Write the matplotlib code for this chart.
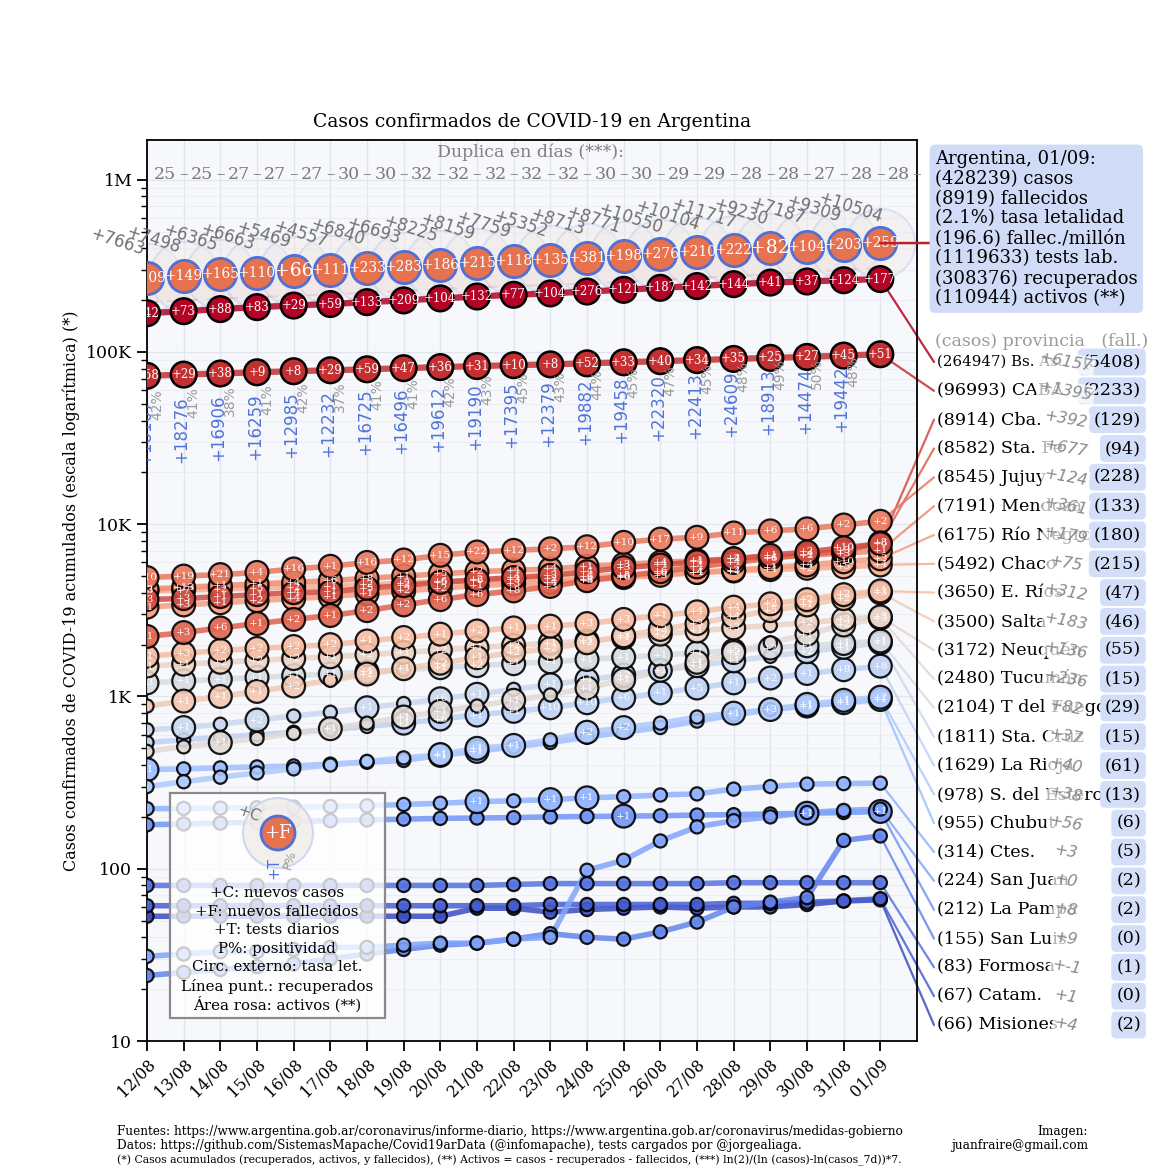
import matplotlib.pyplot as plt
from matplotlib import cm
from matplotlib.patches import Circle, FancyBboxPatch
from matplotlib.transforms import offset_copy
from matplotlib.ticker import LogLocator, NullFormatter

plt.rcParams['font.family'] = 'DejaVu Serif'

fechas = ['12/08', '13/08', '14/08', '15/08', '16/08', '17/08', '18/08', '19/08',
          '20/08', '21/08', '22/08', '23/08', '24/08', '25/08', '26/08', '27/08',
          '28/08', '29/08', '30/08', '31/08', '01/09']

# Argentina (totales)
arg_casos = [268574, 276072, 282437, 289100, 294569, 299126, 305966, 312659, 320884, 329043,
             336802, 342154, 350867, 359638, 370188, 380292, 392009, 401239, 408426, 417735, 428239]
arg_nuevos = [7663, 7498, 6365, 6663, 5469, 4557, 6840, 6693, 8225, 8159, 7759, 5352, 8713,
              8771, 10550, 10104, 11717, 9230, 7187, 9309, 10504]
arg_fall_nuevos = [209, 149, 165, 110, 66, 111, 233, 283, 186, 215, 118, 135, 381, 198, 276,
                   210, 222, 82, 104, 203, 259]
arg_recuperados = [194000, 199000, 204000, 208000, 212000, 216000, 221000, 227000, 232000,
                   237000, 241000, 245000, 250000, 256000, 262000, 269000, 276000, 283000,
                   291000, 299000, 308376]
duplica = [25, 25, 27, 27, 27, 30, 30, 32, 32, 32, 32, 32, 30, 30, 29, 29, 28, 28, 27, 28, 28]
tests = [18107, 18276, 16906, 16259, 12985, 12232, 16725, 16496, 19612, 19190, 17395, 12379,
         19882, 19458, 22320, 22413, 24609, 18913, 14474, 19442]
positividad = [42, 41, 38, 41, 42, 37, 41, 41, 42, 43, 45, 43, 44, 45, 47, 45, 48, 49, 50, 48]

arg_resumen = ['Argentina, 01/09:', '(428239) casos', '(8919) fallecidos', '(2.1%) tasa letalidad',
               '(196.6) fallec./millón', '(1119633) tests lab.', '(308376) recuperados',
               '(110944) activos (**)']

# provincias (etiquetas de la derecha)
prov_nombres = ['Bs. As.', 'CABA', 'Cba.', 'Sta. Fe', 'Jujuy', 'Mendoza', 'Río Negro', 'Chaco',
                'E. Ríos', 'Salta', 'Neuquén', 'Tucumán', 'T del Fuego', 'Sta. Cruz', 'La Rioja',
                'S. del Estero', 'Chubut', 'Ctes.', 'San Juan', 'La Pampa', 'San Luis', 'Formosa',
                'Catam.', 'Misiones']
prov_casos = [264947, 96993, 8914, 8582, 8545, 7191, 6175, 5492, 3650, 3500, 3172, 2480, 2104,
              1811, 1629, 978, 955, 314, 224, 212, 155, 83, 67, 66]
prov_fall = [5408, 2233, 129, 94, 228, 133, 180, 215, 47, 46, 55, 15, 29, 15, 61, 13, 6, 5, 2,
             2, 0, 1, 0, 2]
prov_nuevos = [6157, 1395, 392, 677, 124, 361, 179, 75, 312, 183, 136, 236, 82, 37, 40, 38, 56,
               3, 0, 8, 9, -1, 1, 4]

# series por provincia (casos acumulados / fallecidos del dia)
casos_bsas = [167800, 172500, 177300, 182100, 186000, 189800, 194600, 199200, 204600, 209900,
              214700, 218700, 224300, 229400, 235700, 241300, 247500, 252800, 256500, 260900, 264947]
fall_bsas = [42, 73, 88, 83, 29, 59, 133, 209, 104, 132, 77, 104, 276, 121, 187, 142, 144, 41,
             37, 124, 177]
casos_caba = [72700, 73900, 75000, 76200, 77300, 78300, 79300, 80500, 81700, 82800, 83800,
              84700, 85900, 87100, 88400, 89700, 91100, 92400, 93600, 95300, 96993]
fall_caba = [58, 29, 38, 9, 8, 29, 59, 47, 36, 31, 10, 8, 52, 33, 40, 34, 35, 25, 27, 45, 51]
casos_cba = [3660, 3700, 3800, 3900, 4000, 4050, 4250, 4400, 4600, 4750, 4900, 5050, 5300, 5600,
             5800, 6050, 6300, 6600, 6900, 7300, 7700]
fall_cba = [3, 3, 1, 1, 4, 1, 5, 3, 5, 2, 4, 2, 4, 3, 4, 4, 4, 1, 2, 10, 6]
casos_stafe = [2230, 2350, 2500, 2650, 2800, 2950, 3150, 3400, 3650, 3900, 4100, 4350, 4700,
               5000, 5300, 5650, 6000, 6350, 6650, 7000, 7800]
fall_stafe = [1, 3, 6, 1, 2, 1, 2, 2, 6, 6, 8, 3, 8, 6, 6, 4, 4, 6, 4, 3, 3]
casos_jujuy = [4900, 5000, 5100, 5250, 5500, 5700, 6000, 6200, 6600, 6900, 7050, 7200, 7400,
               7850, 8200, 8400, 8900, 9150, 9400, 9900, 10400]
fall_jujuy = [10, 19, 21, 4, 16, 1, 16, 12, 15, 22, 12, 2, 12, 10, 17, 9, 11, 6, 6, 2, 2]
casos_mendoza = [4200, 4300, 4400, 4500, 4600, 4700, 4850, 5000, 5150, 5300, 5400, 5500, 5700,
                 5850, 6000, 6150, 6300, 6450, 6600, 6800, 7000]
fall_mendoza = [3, 13, 1, 1, 4, 6, 8, 1, 5, 2, 4, 4, 1, 3, 4, 1, 2, 4, 2, 3, 1]
casos_rionegro = [3300, 3400, 3500, 3600, 3700, 3800, 3950, 4100, 4250, 4400, 4500, 4600, 4750,
                  4900, 5050, 5250, 5400, 5600, 5800, 6050, 6300]
fall_rionegro = [1, 3, 1, 2, 4, 1, 1, 2, 2, 1, 3, 4, 4, 6, 3, 4, 2, 1, 4, 10, 3]
casos_chaco = [4100, 4150, 4200, 4250, 4300, 4350, 4450, 4550, 4650, 4700, 4800, 4850, 4950,
               5050, 5150, 5250, 5350, 5450, 5550, 5650, 5800]
fall_chaco = [3, 7, 2, 5, 2, 1, 2, 2, 6, 6, 3, 2, 6, 5, 6, 4, 4, 4, 2, 5, 4]
casos_erios = [1710, 1780, 1850, 1900, 1950, 2000, 2100, 2200, 2300, 2400, 2500, 2560, 2650,
               2800, 2950, 3100, 3300, 3450, 3650, 3900, 4100]
fall_erios = [1, 3, 2, 2, 2, 2, 1, 2, 1, 2, 1, 1, 3, 3, 1, 4, 4, 2, 2, 2, 1]
casos_salta = [880, 940, 1000, 1070, 1150, 1240, 1350, 1450, 1560, 1680, 1800, 1900, 2050, 2250,
               2450, 2650, 2900, 3150, 3400, 3700, 4000]
fall_salta = [0, 1, 1, 1, 2, 0, 2, 1, 2, 1, 2, 2, 2, 3, 3, 3, 4, 5, 1, 2, 3]
casos_neuquen = [1500, 1540, 1580, 1620, 1660, 1700, 1750, 1800, 1860, 1920, 1980, 2040, 2100,
                 2200, 2300, 2400, 2500, 2580, 2680, 2800, 2900]
fall_neuquen = [1, 1, 2, 2, 2, 1, 2, 1, 2, 1, 2, 1, 1, 1, 2, 1, 3, 0, 2, 3, 3]
casos_tucuman = [480, 510, 540, 570, 610, 650, 700, 760, 820, 880, 950, 1020, 1120, 1250, 1400,
                 1580, 1800, 2050, 2300, 2600, 2850]
fall_tucuman = [0, 0, 1, 0, 0, 1, 0, 1, 1, 0, 1, 0, 1, 1, 0, 1, 2, 0, 1, 2, 3]
casos_tdf = [1200, 1230, 1260, 1290, 1320, 1350, 1390, 1430, 1470, 1510, 1550, 1590, 1640, 1690,
             1740, 1790, 1850, 1910, 1970, 2030, 2100]
fall_tdf = [3, 1, 1, 1, 1, 1, 1, 0, 1, 2, 1, 1, 1, 1, 1, 1, 5, 2, 1, 1, 1]
casos_stacruz = [640, 660, 690, 730, 770, 810, 860, 910, 970, 1030, 1100, 1170, 1250, 1330,
                 1420, 1510, 1610, 1710, 1820, 1930, 2050]
fall_stacruz = [0, 1, 0, 2, 0, 0, 1, 0, 6, 1, 0, 1, 1, 2, 1, 1, 1, 0, 2, 1, 1]
casos_larioja = [540, 560, 580, 600, 620, 640, 670, 700, 740, 780, 820, 860, 920, 980, 1050,
                 1120, 1200, 1280, 1360, 1430, 1500]
fall_larioja = [0, 0, 0, 0, 0, 0, 0, 1, 6, 1, 1, 10, 10, 6, 1, 5, 1, 2, 1, 8, 8]
casos_sestero = [300, 320, 340, 360, 380, 400, 420, 440, 460, 500, 520, 560, 620, 660, 700, 760,
                 800, 840, 900, 950, 990]
fall_sestero = [0, 0, 0, 0, 0, 0, 0, 0, 1, 1, 1, 0, 2, 2, 0, 0, 1, 3, 1, 1, 2]
casos_chubut = [376, 380, 385, 390, 395, 405, 415, 425, 455, 480, 510, 540, 580, 620, 660, 720,
                780, 840, 880, 920, 960]
fall_chubut = [1, 0, 0, 0, 0, 0, 0, 0, 1, 1, 0, 0, 0, 0, 0, 0, 0, 0, 1, 1, 1]
casos_ctes = [223, 224, 225, 226, 228, 230, 232, 236, 240, 245, 248, 252, 258, 262, 268, 272,
              290, 300, 310, 312, 314]
fall_ctes = [0, 0, 0, 0, 0, 0, 0, 0, 0, 1, 0, 1, 1, 0, 0, 0, 0, 0, 0, 0, 0]
casos_sanjuan = [31, 32, 33, 33, 34, 35, 35, 36, 37, 37, 39, 40, 98, 112, 145, 175, 190, 200,
                 212, 218, 222]
fall_sanjuan = [0] * 21
casos_lapampa = [180, 182, 184, 186, 188, 190, 192, 194, 196, 197, 198, 200, 201, 202, 203, 205,
                 206, 208, 210, 212, 215]
fall_lapampa = [0, 0, 0, 0, 0, 0, 0, 0, 0, 0, 0, 0, 0, 1, 0, 0, 0, 0, 1, 0, 1]
casos_sanluis = [24, 25, 26, 27, 28, 30, 32, 34, 36, 37, 39, 42, 40, 39, 43, 49, 60, 64, 68,
                 146, 155]
fall_sanluis = [0] * 21
casos_formosa = [80, 80, 80, 80, 80, 80, 80, 80, 80, 80, 81, 82, 82, 82, 82, 82, 83, 83, 83, 83, 83]
fall_formosa = [0] * 21
casos_catam = [61, 61, 61, 61, 61, 61, 61, 61, 61, 61, 61, 62, 62, 62, 62, 62, 63, 63, 64, 65, 67]
fall_catam = [0] * 21
casos_misiones = [53, 53, 53, 53, 53, 53, 53, 53, 53, 59, 59, 56, 58, 59, 60, 59, 60, 60, 62,
                  65, 66]
fall_misiones = [0] * 21

prov_series = [casos_bsas, casos_caba, casos_cba, casos_stafe, casos_jujuy, casos_mendoza,
               casos_rionegro, casos_chaco, casos_erios, casos_salta, casos_neuquen,
               casos_tucuman, casos_tdf, casos_stacruz, casos_larioja, casos_sestero,
               casos_chubut, casos_ctes, casos_sanjuan, casos_lapampa, casos_sanluis,
               casos_formosa, casos_catam, casos_misiones]
prov_fall_dia = [fall_bsas, fall_caba, fall_cba, fall_stafe, fall_jujuy, fall_mendoza,
                 fall_rionegro, fall_chaco, fall_erios, fall_salta, fall_neuquen, fall_tucuman,
                 fall_tdf, fall_stacruz, fall_larioja, fall_sestero, fall_chubut, fall_ctes,
                 fall_sanjuan, fall_lapampa, fall_sanluis, fall_formosa, fall_catam,
                 fall_misiones]

W = 1170.0


def fx(px):
    return px / W


def fy(py):
    return 1 - py / W


fig = plt.figure(figsize=(11.7, 11.7), dpi=100)
ax = fig.add_axes([fx(147), fy(1041), fx(917) - fx(147), fy(140) - fy(1041)])
ax.set_facecolor('#f7f8fc')
ax.set_yscale('log')
ax.set_xlim(0, 21)
ax.set_ylim(10, 1.7e6)
dias = list(range(len(fechas)))
n = len(prov_nombres)
colores = [cm.coolwarm(1 - i / (n - 1)) for i in range(n)]

# area activos y recuperados
ax.fill_between(dias, arg_recuperados, arg_casos, color='#f3dada', alpha=0.55, lw=0, zorder=1)
ax.plot(dias, arg_recuperados, ls=(0, (5, 4)), color='#e69ea2', lw=1.6, zorder=2)
ax.scatter(dias, arg_casos, s=2500, facecolor='#efe9e7', edgecolor='#bccbf0', lw=1.5,
           alpha=0.45, zorder=2)

# provincias (de menor a mayor, las grandes quedan arriba)
for i in range(n - 1, -1, -1):
    serie = prov_series[i]
    fall = prov_fall_dia[i]
    c = colores[i]
    grande = i < 2
    ax.plot(dias, serie, color=c, lw=4.5 if grande else 4, alpha=0.85,
            zorder=6 if grande else 3, solid_capstyle='round')
    if grande:
        tam = [340] * len(serie)
    else:
        tam = [270 if f > 0 else 90 for f in fall]
    ax.scatter(dias, serie, s=tam, color=c, edgecolor='black', lw=1.8 if grande else 1.6,
               alpha=1 if grande else 0.9, zorder=7 if grande else 4)
    for d, v, f in zip(dias, serie, fall):
        if f > 0:
            ax.text(d, v, f'+{f}', color='white', fontsize=8.5 if grande else 7.5,
                    ha='center', va='center', zorder=8 if grande else 5, clip_on=True)

# Argentina
ax.scatter(dias, arg_casos, s=540, facecolor='#e6724f', edgecolor='#4f70d6', lw=2, zorder=9)
for d, v, f in zip(dias, arg_casos, arg_fall_nuevos):
    ax.text(d, v, f'+{f}', color='white', fontsize=10 if f >= 100 else 13.5,
            ha='center', va='center', zorder=10, clip_on=True)

tr_nuevos = offset_copy(ax.transData, fig=fig, x=-30 * 0.72, y=36 * 0.72, units='points')
for d, v, c in zip(dias, arg_casos, arg_nuevos):
    ax.text(d, v, f'+{c}', transform=tr_nuevos, rotation=-18, color='#707070', fontsize=12,
            family='DejaVu Sans', ha='center', va='center', zorder=11)

tr_tests = offset_copy(ax.transData, fig=fig, x=-2 * 0.72, y=-187 * 0.72, units='points')
tr_pos = offset_copy(ax.transData, fig=fig, x=10 * 0.72, y=-142 * 0.72, units='points')
for d, t, p in zip(dias, tests, positividad):
    ax.text(d, arg_casos[d], f'+{t}', transform=tr_tests, rotation=90, color='#4f73d9',
            fontsize=12, family='DejaVu Sans', ha='center', va='bottom', clip_on=True, zorder=11)
    ax.text(d, arg_casos[d], f'{p}%', transform=tr_pos, rotation=90, color='#9a9a9a',
            fontsize=10, family='DejaVu Sans', ha='center', va='bottom', clip_on=True, zorder=11)

# duplica en dias
y_dup = 1.07e6
for d, v in zip(dias, duplica):
    ax.text(d + 0.5, y_dup, str(v), color='#7a7a7a', fontsize=12.5, ha='center', va='center',
            zorder=11)
    ax.text(d + 1, y_dup, '–', color='#7a7a7a', fontsize=12.5, ha='center', va='center',
            zorder=11)
ax.text(10.45, 1.44e6, 'Duplica en días (***):', color='#808080', fontsize=12.5,
        ha='center', va='center', zorder=11)

# ejes
ax.set_xticks(dias)
ax.set_xticklabels(fechas, rotation=45, ha='right', rotation_mode='anchor', fontsize=11.5)
ax.set_yticks([10, 100, 1e3, 1e4, 1e5, 1e6])
ax.set_yticklabels(['10', '100', '1K', '10K', '100K', '1M'], fontsize=12.5)
ax.yaxis.set_minor_locator(LogLocator(base=10, subs=range(2, 10)))
ax.yaxis.set_minor_formatter(NullFormatter())
ax.tick_params(axis='both', which='major', length=7, width=1.3)
ax.tick_params(axis='y', which='minor', length=4, width=1)
ax.grid(True, which='major', color='#e3e5ee', lw=1, zorder=0)
ax.grid(True, which='minor', axis='y', color='#eceef4', lw=0.8, zorder=0)
ax.set_axisbelow(True)
for sp in ax.spines.values():
    sp.set_linewidth(1.3)
ax.set_ylabel('Casos confirmados de COVID-19 acumulados (escala logarítmica) (*)', fontsize=11.5)
ax.yaxis.set_label_coords(-0.087, 0.5)
fig.text(fx(532), fy(122), 'Casos confirmados de COVID-19 en Argentina', fontsize=13.5,
         ha='center', va='center')

# recuadro Argentina
fig.text(fx(935), fy(150), '\n'.join(arg_resumen), fontsize=13, ha='left', va='top',
         linespacing=1.13, bbox=dict(boxstyle='round,pad=0.3', fc='#d0dcf7', ec='none'))
ax.annotate('', xy=(dias[-1], arg_casos[-1]), xytext=(fx(931), fy(243)),
            textcoords='figure fraction',
            arrowprops=dict(arrowstyle='-', color='#b8212f', lw=1.8, shrinkA=0, shrinkB=0),
            annotation_clip=False, zorder=12)

# lista de provincias
fig.text(fx(935), fy(341), '(casos) provincia   (fall.)', color='#9a9a9a', fontsize=12.5,
         ha='left', va='center')
y0, paso = 362, (1025 - 362) / (n - 1)
for i in range(n):
    yy = y0 + i * paso
    fig.text(fx(937), fy(yy), f'({prov_casos[i]}) {prov_nombres[i]}',
             fontsize=10.8 if i == 0 else 12.6, ha='left', va='center', zorder=5)
    fig.text(fx(1141), fy(yy), f'({prov_fall[i]})', fontsize=12.6, ha='right', va='center',
             zorder=6, bbox=dict(boxstyle='round,pad=0.28', fc='#d3def8', ec='none'))
    fig.text(fx(1066), fy(yy), f'+{prov_nuevos[i]}', fontsize=11.5, style='italic',
             family='DejaVu Sans', color='#8a8a8a', rotation=-10, ha='center', va='center',
             zorder=7, bbox=dict(boxstyle='square,pad=0.12', fc='white', ec='none', alpha=0.7))
    ax.annotate('', xy=(dias[-1], prov_series[i][-1]), xytext=(fx(934), fy(yy)),
                textcoords='figure fraction',
                arrowprops=dict(arrowstyle='-', color=colores[i], lw=1.6, alpha=0.85,
                                shrinkA=0, shrinkB=0),
                annotation_clip=False, zorder=2)

# leyenda
fig.add_artist(FancyBboxPatch((fx(170), fy(1018)), fx(385) - fx(170), fy(793) - fy(1018),
                              boxstyle='square,pad=0', transform=fig.transFigure,
                              fc=(1, 1, 1, 0.78), ec='#8a8a8a', lw=1.6, zorder=20))
fig.add_artist(Circle((fx(278), fy(833)), 35 / W, transform=fig.transFigure, fc='#f1ece9',
                      ec='#c5d1f0', lw=1.5, alpha=0.8, zorder=21))
fig.add_artist(Circle((fx(278), fy(833)), 17 / W, transform=fig.transFigure, fc='#e6724f',
                      ec='#4f70d6', lw=2, zorder=22))
fig.text(fx(278), fy(833), '+F', color='white', fontsize=13, ha='center', va='center', zorder=23)
fig.text(fx(249), fy(814), '+C', color='#777777', fontsize=11, rotation=-20,
         family='DejaVu Sans', ha='center', va='center', zorder=23)
fig.text(fx(274), fy(868), '+T', color='#4f73d9', fontsize=11, rotation=90,
         family='DejaVu Sans', ha='center', va='center', zorder=23)
fig.text(fx(290), fy(860), 'P%', color='#9a9a9a', fontsize=9, rotation=75,
         family='DejaVu Sans', ha='center', va='center', zorder=23)
leyenda = ['+C: nuevos casos', '+F: nuevos fallecidos', '+T: tests diarios', 'P%: positividad',
           'Circ. externo: tasa let.', 'Línea punt.: recuperados', 'Área rosa: activos (**)']
for k, linea in enumerate(leyenda):
    fig.text(fx(277), fy(893 + k * 18.6), linea, fontsize=10.8, ha='center', va='center',
             zorder=23)

# pie
pie = ['Fuentes: https://www.argentina.gob.ar/coronavirus/informe-diario, '
       'https://www.argentina.gob.ar/coronavirus/medidas-gobierno',
       'Datos: https://github.com/SistemasMapache/Covid19arData (@infomapache), '
       'tests cargados por @jorgealiaga.',
       '(*) Casos acumulados (recuperados, activos, y fallecidos), (**) Activos = casos - '
       'recuperados - fallecidos, (***) ln(2)/(ln (casos)-ln(casos_7d))*7.']
tam_pie = [8.7, 8.7, 7.8]
for k, linea in enumerate(pie):
    fig.text(fx(117), fy(1131 + k * 14.5), linea, fontsize=tam_pie[k], ha='left', va='center')
fig.text(fx(1088), fy(1131), 'Imagen:', fontsize=8.7, ha='right', va='center')
fig.text(fx(1088), fy(1145.5), 'juanfraire@gmail.com', fontsize=8.7, ha='right', va='center')

fig.savefig('out.png', dpi=100)
